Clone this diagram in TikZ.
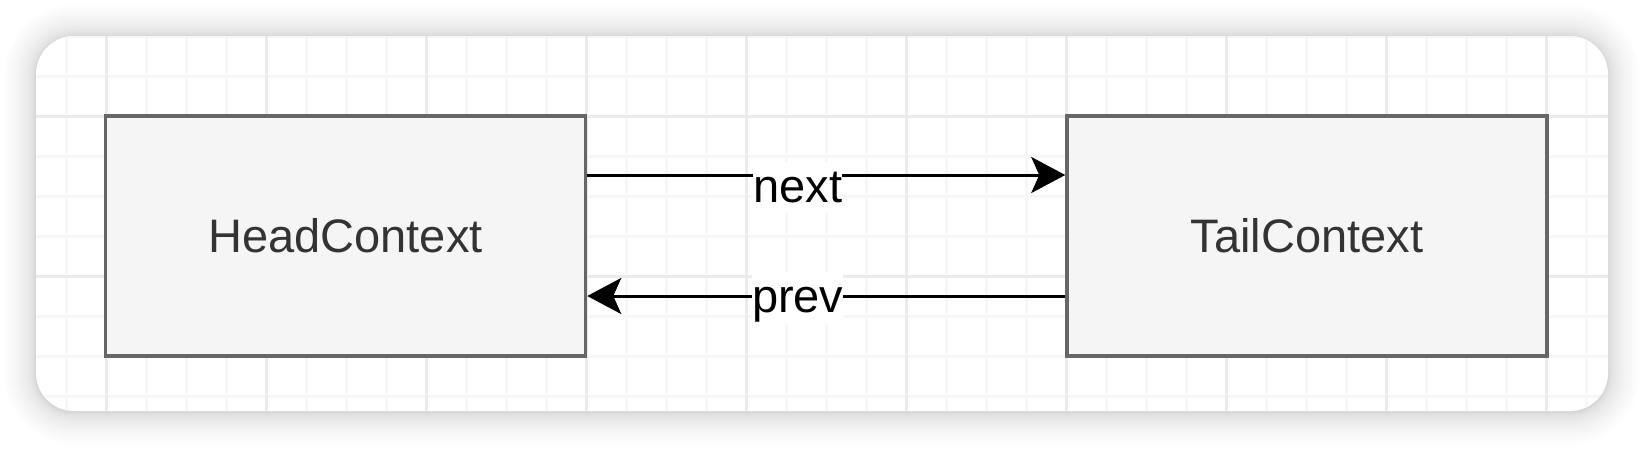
\documentclass[tikz,border=0pt]{standalone}
\usepackage{fontspec}
\setmainfont{Liberation Sans}
\usepackage{tikz}
\usetikzlibrary{positioning, arrows.meta}
\usepackage{xcolor}
\definecolor{boxFill}{HTML}{F5F5F5}
\definecolor{boxLine}{HTML}{666666}
\definecolor{boxText}{HTML}{333333}
\definecolor{gridMinor}{HTML}{F7F7F7}
\definecolor{gridMajor}{HTML}{EBEBEB}

\begin{document}
\begin{tikzpicture}[x=1pt, y=-1pt, >={Stealth[length=34pt, width=36pt, inset=8pt]},
  ctxbox/.style={draw=boxLine, fill=boxFill, line width=3.5pt, minimum width=480pt,
    minimum height=240pt, text=boxText, font=\fontsize{47}{56}\selectfont},
  link/.style={->, line width=3pt},
  edgelabel/.style={fill=white, inner sep=0pt, text height=40pt, text depth=11pt,
    anchor=base, font=\fontsize{47}{56}\selectfont}]
  \useasboundingbox (0,0) rectangle (1644,448);

  % Card shadow
  \foreach \s [evaluate=\s as \e using 1+31*(\s/20)^2] in {1,...,20}
    \fill[black, opacity=0.008, rounded corners=38pt+\e pt]
      (36-\e, 37-\e) rectangle (1608+\e, 412+\e);
  \fill[white, rounded corners=38pt] (36,36) rectangle (1608,411);

  % Grid
  \begin{scope}
    \clip[rounded corners=38pt] (36,36) rectangle (1608,411);
    \foreach \gx in {66,106,...,1586}
      \draw[gridMinor, line width=3pt] (\gx,36) -- (\gx,411);
    \foreach \gy in {36,76,...,396}
      \draw[gridMinor, line width=3pt] (36,\gy) -- (1608,\gy);
    \foreach \gx in {106,266,...,1546}
      \draw[gridMajor, line width=3pt] (\gx,36) -- (\gx,411);
    \foreach \gy in {116,276}
      \draw[gridMajor, line width=3pt] (36,\gy) -- (1608,\gy);
  \end{scope}

  % Contexts
  \node[ctxbox] (head) at (345.5,236) {HeadContext};
  \node[ctxbox, right=478pt of head] (tail) {TailContext};

  % Links
  \draw[link] ([yshift=61pt]head.east) --
    node[edgelabel, xshift=-28.5pt, yshift=-27pt]{next} ([yshift=61pt]tail.west);
  \draw[link] ([yshift=-60pt]tail.west) --
    node[edgelabel, xshift=-28.5pt, yshift=-16pt]{prev} ([yshift=-60pt]head.east);
\end{tikzpicture}
\end{document}
